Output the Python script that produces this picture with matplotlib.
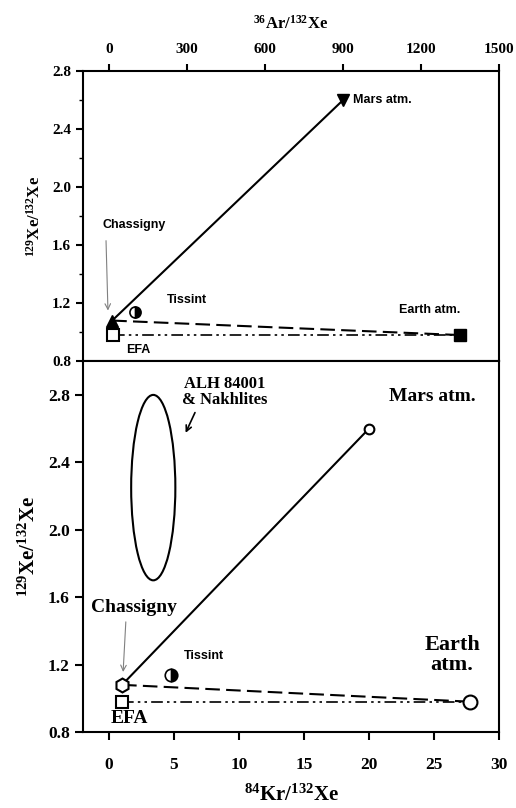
import matplotlib
matplotlib.use("Agg")
import matplotlib.pyplot as plt
from matplotlib.patches import Ellipse

plt.rcParams['font.family'] = 'Liberation Serif'
plt.rcParams['font.weight'] = 'bold'
plt.rcParams['mathtext.fontset'] = 'custom'
plt.rcParams['mathtext.rm'] = 'Liberation Serif:bold'
plt.rcParams['mathtext.default'] = 'rm'

# Data: top panel, 36Ar/132Xe vs 129Xe/132Xe
ar_chassigny = [12]
xe_chassigny = [1.08]
ar_tissint = [100]
xe_tissint = [1.14]
ar_efa = [15]
xe_efa = [0.98]
ar_earth = [1350]
xe_earth = [0.98]
ar_mars = [900]
xe_mars = [2.6]

# Data: bottom panel, 84Kr/132Xe vs 129Xe/132Xe
kr_chassigny = [1.0]
kr_tissint = [4.8]
kr_efa = [1.0]
kr_earth = [27.8]
kr_mars = [20.0]
# ALH 84001 & nakhlites field (centre x, centre y, width, height)
alh_field = [3.4, 2.25, 3.4, 1.1]

sans = 'Liberation Sans'
dashdotdot = (0, (7, 2.5, 1.5, 2.5, 1.5, 2.5))
ylab = r'$^{129}\mathrm{Xe}/^{132}\mathrm{Xe}$'

fig = plt.figure(figsize=(5.16, 8.08), dpi=100)
ax1 = fig.add_axes([0.161, 0.553, 0.806, 0.359])
ax2 = fig.add_axes([0.161, 0.094, 0.806, 0.459])

# ---- top panel
ax1.plot(ar_chassigny + ar_mars, xe_chassigny + xe_mars, 'k-', lw=1.5)
ax1.plot(ar_chassigny + ar_earth, xe_chassigny + xe_earth, 'k--', lw=1.5, dashes=(7, 3))
ax1.plot(ar_efa + ar_earth, xe_efa + xe_earth, color='k', lw=1.2, ls=dashdotdot)
ax1.plot(ar_chassigny, xe_chassigny, 'k^', ms=8)
ax1.plot(ar_mars, xe_mars, 'kv', ms=8)
ax1.plot(ar_tissint, xe_tissint, 'o', ms=8, color='k', mfc='k', mfcalt='white',
         fillstyle='right', mew=1.2)
ax1.plot(ar_efa, xe_efa, 's', ms=8, mfc='white', mec='k', mew=1.5)
ax1.plot(ar_earth, xe_earth, 'ks', ms=8)

ax1.text(96, 1.74, 'Chassigny', family=sans, fontsize=9, ha='center', va='center')
ax1.annotate('', xy=(-4, 1.13), xytext=(-12, 1.65),
             arrowprops=dict(arrowstyle='->', color='gray', lw=0.8))
ax1.text(300, 1.22, 'Tissint', family=sans, fontsize=9, ha='center', va='center')
ax1.text(112, 0.875, 'EFA', family=sans, fontsize=9, ha='center', va='center')
ax1.text(940, 2.6, 'Mars atm.', family=sans, fontsize=9, ha='left', va='center')
ax1.text(1235, 1.15, 'Earth atm.', family=sans, fontsize=9, ha='center', va='center')

ax1.set_xlim(-100, 1500)
ax1.set_ylim(0.8, 2.8)
ax1.xaxis.tick_top()
ax1.xaxis.set_label_position('top')
ax1.set_xticks([0, 300, 600, 900, 1200, 1500])
ax1.set_yticks([0.8, 1.2, 1.6, 2.0, 2.4, 2.8])
ax1.set_yticks([1.0, 1.4, 1.8, 2.2, 2.6], minor=True)
ax1.set_yticklabels(['0.8', '1.2', '1.6', '2.0', '2.4', '2.8'])
ax1.tick_params(axis='both', which='major', labelsize=11, width=1.5, length=5)
ax1.tick_params(axis='x', pad=6)
ax1.tick_params(axis='y', which='minor', width=1, length=3)
ax1.set_xlabel(r'$^{36}\mathrm{Ar}/^{132}\mathrm{Xe}$', fontsize=12, labelpad=10)
ax1.set_ylabel(ylab, fontsize=12, labelpad=6)

# ---- bottom panel
ax2.plot(kr_chassigny + kr_mars, xe_chassigny + xe_mars, 'k-', lw=1.5)
ax2.plot(kr_chassigny + kr_earth, xe_chassigny + xe_earth, 'k--', lw=1.5, dashes=(7, 3))
ax2.plot(kr_efa + kr_earth, xe_efa + xe_earth, color='k', lw=1.2, ls=dashdotdot)
ax2.plot(kr_chassigny, xe_chassigny, 'h', ms=10, mfc='white', mec='k', mew=1.5)
ax2.plot(kr_mars, xe_mars, 'o', ms=7, mfc='white', mec='k', mew=1.5)
ax2.plot(kr_tissint, xe_tissint, 'o', ms=9, color='k', mfc='k', mfcalt='white',
         fillstyle='right', mew=1.2)
ax2.plot(kr_efa, xe_efa, 's', ms=8, mfc='white', mec='k', mew=1.5)
ax2.plot(kr_earth, xe_earth, 'o', ms=10, mfc='white', mec='k', mew=1.5)
ax2.add_patch(Ellipse((alh_field[0], alh_field[1]), alh_field[2], alh_field[3],
                      fill=False, ec='k', lw=1.5))

ax2.text(8.9, 2.82, 'ALH 84001\n& Nakhlites', fontsize=12, ha='center', va='center',
         linespacing=1.0)
ax2.annotate('', xy=(5.8, 2.56), xytext=(6.7, 2.71),
             arrowprops=dict(arrowstyle='->', color='k', lw=1.2))
ax2.text(24.9, 2.79, 'Mars atm.', fontsize=14, ha='center', va='center')
ax2.text(1.9, 1.54, 'Chassigny', fontsize=14, ha='center', va='center')
ax2.annotate('', xy=(1.07, 1.14), xytext=(1.3, 1.47),
             arrowprops=dict(arrowstyle='->', color='gray', lw=0.8))
ax2.text(7.3, 1.25, 'Tissint', family=sans, fontsize=9, ha='center', va='center')
ax2.text(1.6, 0.88, 'EFA', fontsize=14, ha='center', va='center')
ax2.text(26.4, 1.26, 'Earth\natm.', fontsize=16, ha='center', va='center',
         linespacing=1.0)

ax2.set_xlim(-2, 30)
ax2.set_ylim(0.8, 3.0)
ax2.set_xticks([0, 5, 10, 15, 20, 25, 30])
ax2.set_yticks([0.8, 1.2, 1.6, 2.0, 2.4, 2.8])
ax2.set_yticklabels(['0.8', '1.2', '1.6', '2.0', '2.4', '2.8'])
ax2.tick_params(axis='both', which='major', labelsize=12.5, width=1.5, length=6)
ax2.tick_params(axis='x', pad=12)
ax2.set_xlabel(r'$^{84}\mathrm{Kr}/^{132}\mathrm{Xe}$', fontsize=15, labelpad=8)
ax2.set_ylabel(ylab, fontsize=15, labelpad=6)

for ax in (ax1, ax2):
    for s in ax.spines.values():
        s.set_linewidth(1.5)

fig.savefig('out.png', dpi=100)
